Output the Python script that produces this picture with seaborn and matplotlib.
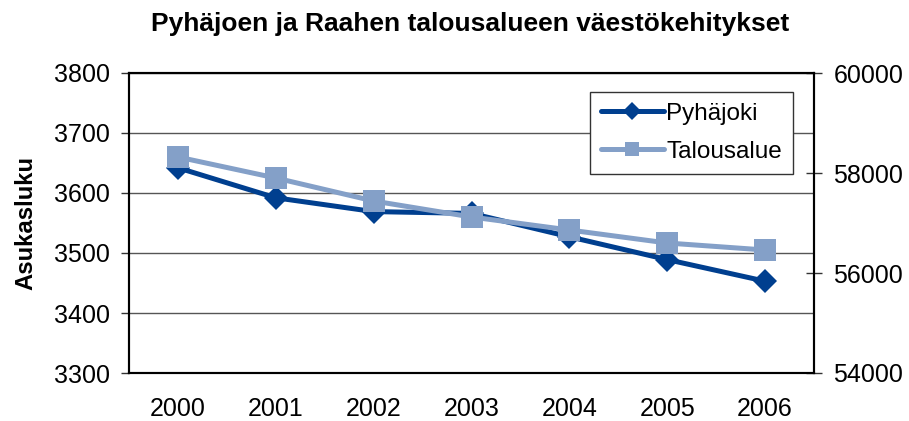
import numpy as np
import pandas as pd
import matplotlib
matplotlib.use("Agg")
import matplotlib.pyplot as plt
import seaborn as sns
from matplotlib.lines import Line2D

years = ["2000", "2001", "2002", "2003", "2004", "2005", "2006"]
pyhajoki = [3642, 3592, 3569, 3566, 3527, 3489, 3453]
talousalue = [58320, 57900, 57440, 57120, 56860, 56600, 56460]
left_ticks = [3300, 3400, 3500, 3600, 3700, 3800]
right_ticks = [54000, 56000, 58000, 60000]

sns.set_theme(style="white")
plt.rcParams['font.family'] = ['Liberation Sans', 'DejaVu Sans']
plt.rcParams['text.color'] = 'black'
plt.rcParams['axes.labelcolor'] = 'black'

df = pd.DataFrame({"pos": np.arange(len(years)), "Vuosi": years,
                   "Pyhäjoki": pyhajoki, "Talousalue": talousalue})

c1 = "#003f8f"
c2 = "#84a0c8"

fig = plt.figure(figsize=(9.09, 4.21), dpi=100)
ax = fig.add_axes([129/909, 1-373/421, (814-129)/909, (373-73)/421])
ax2 = ax.twinx()

sns.lineplot(data=df, x="pos", y="Pyhäjoki", ax=ax, color=c1, linewidth=3.6,
             marker="D", markersize=12.5, markeredgewidth=0, markeredgecolor=c1)
sns.lineplot(data=df, x="pos", y="Talousalue", ax=ax2, color=c2, linewidth=3.6,
             marker="s", markersize=16, markeredgewidth=0, markeredgecolor=c2)

ax.set_ylim(3300, 3800)
ax.set_yticks(left_ticks)
ax2.set_ylim(54000, 60000)
ax2.set_yticks(right_ticks)
ax.set_xlim(-0.5, len(years) - 0.5)

ax.set_xticks(np.arange(len(years)))
ax.set_xticklabels(years)
ax.set_xticks(np.arange(-0.5, len(years)), minor=True)
ax.tick_params(axis="x", which="major", length=0, labelsize=18, pad=17,
               labelcolor="black")
ax.tick_params(axis="x", which="minor", length=7, width=1, direction="out", color="#555555")
ax.tick_params(axis="y", length=6, width=1, direction="out", labelsize=18, pad=8,
               left=True, color="#333333", labelcolor="black")
ax2.tick_params(axis="y", length=12, width=1, direction="inout", labelsize=18, pad=8,
                right=True, color="#333333", labelcolor="black")

ax.grid(axis="y", color="#555555", linewidth=1)
ax.grid(axis="x", visible=False)
ax2.grid(False)

for a in (ax, ax2):
    for s in a.spines.values():
        s.set_visible(True)
        s.set_color("black")
        s.set_linewidth(1.5)

ax.set_xlabel("")
ax2.set_ylabel("")
ax.set_ylabel("Asukasluku", fontsize=17.2, fontweight="bold", color="black")
ax.yaxis.set_label_coords(-(129 - 37) / 685, 0.5)

fig.text(0.517, 1 - 24/421, "Pyhäjoen ja Raahen talousalueen väestökehitykset",
         fontsize=19, fontweight="bold", color="black", ha="center", va="center")

handles = [Line2D([], [], color=c1, lw=3.6, marker="D", markersize=9, markeredgewidth=0),
           Line2D([], [], color=c2, lw=3.6, marker="s", markersize=10, markeredgewidth=0)]
leg = ax2.legend(handles, ["Pyhäjoki", "Talousalue"], loc="upper right",
                 bbox_to_anchor=((793 - 129) / 685, 1 - (92 - 73) / 300), fontsize=17.5,
                 frameon=True, fancybox=False, edgecolor="#333333", framealpha=1,
                 handlelength=2.6, handletextpad=0.1, borderpad=0.45, labelspacing=0.65,
                 borderaxespad=0)
leg.get_frame().set_linewidth(1)
for t in leg.get_texts():
    t.set_color("black")

fig.savefig("out.png", dpi=100)
